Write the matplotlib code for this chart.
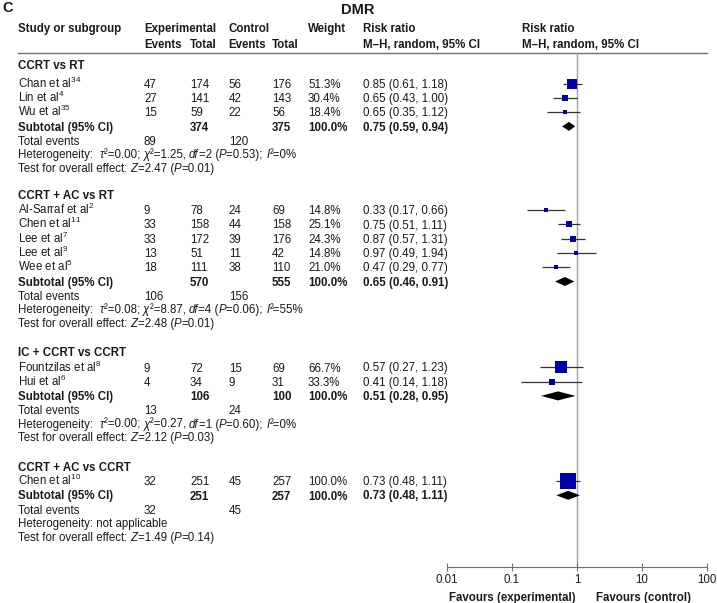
import matplotlib
matplotlib.use("Agg")
import matplotlib.pyplot as plt

plt.rcParams['font.family'] = 'Liberation Sans'
plt.rcParams['mathtext.fontset'] = 'custom'
plt.rcParams['mathtext.rm'] = 'Liberation Sans'
plt.rcParams['mathtext.it'] = 'Liberation Sans:italic'
plt.rcParams['mathtext.bf'] = 'Liberation Sans:bold'
plt.rcParams['mathtext.default'] = 'regular'

# ---- data ----
groups = ["CCRT vs RT", "CCRT + AC vs RT", "IC + CCRT vs CCRT", "CCRT + AC vs CCRT"]

study_group = [0, 0, 0, 1, 1, 1, 1, 1, 2, 2, 3]
study_names = ["Chan et al", "Lin et al", "Wu et al",
               "Al-Sarraf et al", "Chen et al", "Lee et al", "Lee et al", "Wee et al",
               "Fountzilas et al", "Hui et al",
               "Chen et al"]
study_refs = ["34", "4", "35", "2", "11", "7", "9", "5", "8", "6", "10"]
exp_events = [47, 27, 15, 9, 33, 33, 13, 18, 9, 4, 32]
exp_total = [174, 141, 59, 78, 158, 172, 51, 111, 72, 34, 251]
ctl_events = [56, 42, 22, 24, 44, 39, 11, 38, 15, 9, 45]
ctl_total = [176, 143, 56, 69, 158, 176, 42, 110, 69, 31, 257]
weights = [51.3, 30.4, 18.4, 14.8, 25.1, 24.3, 14.8, 21.0, 66.7, 33.3, 100.0]
rr = [0.85, 0.65, 0.65, 0.33, 0.75, 0.87, 0.97, 0.47, 0.57, 0.41, 0.73]
rr_lo = [0.61, 0.43, 0.35, 0.17, 0.51, 0.57, 0.49, 0.29, 0.27, 0.14, 0.48]
rr_hi = [1.18, 1.00, 1.12, 0.66, 1.11, 1.31, 1.94, 0.77, 1.23, 1.18, 1.11]

sub_exp_total = [374, 570, 106, 251]
sub_ctl_total = [375, 555, 100, 257]
sub_exp_events = [89, 106, 13, 32]
sub_ctl_events = [120, 156, 24, 45]
sub_rr = [0.75, 0.65, 0.51, 0.73]
sub_lo = [0.59, 0.46, 0.28, 0.48]
sub_hi = [0.94, 0.91, 0.95, 1.11]

het_tau2 = ["0.00", "0.08", "0.00", None]
het_chi2 = ["1.25", "8.87", "0.27", None]
het_df = [2, 4, 1, None]
het_p = ["0.53", "0.06", "0.60", None]
het_i2 = [0, 55, 0, None]
z_val = ["2.47", "2.48", "2.12", "1.49"]
z_p = ["0.01", "0.01", "0.03", "0.14"]

ticks = [0.01, 0.1, 1, 10, 100]
tick_labels = ["0.01", "0.1", "1", "10", "100"]

# ---- layout (pixels) ----
W, H = 717, 603
heading_y = [65, 195, 352, 466.5]
first_row_y = [83.5, 210, 367.3, 481]
row_h = 14.3
small_h = 13.4
col_x = [18, 144, 190, 228.7, 272, 308, 362.7]
plot_left, plot_right = 447, 707
line_y, axis_y = 53, 567
fs = 8.3
txt_col = '#1a1a1a'
blue = '#0000a8'

fig = plt.figure(figsize=(W / 100, H / 100), dpi=100)
renderer = fig.canvas.get_renderer()
tx = fig.add_axes([0, 0, 1, 1])
tx.set_xlim(0, W)
tx.set_ylim(H, 0)
tx.axis('off')


def put(x, y, s, bold=False, italic=False, **kw):
    # y is the visual centre of the row, text drawn on its baseline
    return tx.text(x, y + 4.2, s, fontsize=kw.pop('size', fs), color=txt_col,
                   fontweight='bold' if bold else 'normal',
                   fontstyle='italic' if italic else 'normal', va='baseline', **kw)


def put_runs(x, y, runs):
    # plain / italic pieces laid one after another (1 data unit = 1 px)
    for s, it in runs:
        t = put(x, y, s, italic=it)
        x += t.get_window_extent(renderer).width


tx.text(2, 8, "C", fontsize=10.5, fontweight='bold', color=txt_col, va='center')
tx.text(358, 9.5, "DMR", fontsize=10.5, fontweight='bold', color=txt_col, va='center', ha='center')

# headers
put(18, 28, "Study or subgroup", True)
put(144, 28, "Experimental", True)
put(228.7, 28, "Control", True)
put(308, 28, "Weight", True)
put(362.7, 28, "Risk ratio", True)
put(521.7, 28, "Risk ratio", True)
put(144, 43.5, "Events", True)
put(190, 43.5, "Total", True)
put(228.7, 43.5, "Events", True)
put(272, 43.5, "Total", True)
put(362.7, 43.5, "M–H, random, 95% CI", True)
put(521.7, 43.5, "M–H, random, 95% CI", True)
tx.plot([18, 707], [line_y, line_y], color='#707070', lw=1)

# forest plot axes: y data = pixel rows
ax = fig.add_axes([plot_left / W, (H - axis_y) / H,
                   (plot_right - plot_left) / W, (axis_y - line_y) / H])
ax.set_xscale('log')
ax.set_xlim(0.01, 100)
ax.set_ylim(axis_y, line_y)
ax.patch.set_alpha(0)
for s in ['top', 'left', 'right']:
    ax.spines[s].set_visible(False)
ax.spines['bottom'].set_color('#707070')
ax.set_yticks([])
ax.set_xticks(ticks)
ax.set_xticklabels(tick_labels)
ax.minorticks_off()
ax.tick_params(axis='x', direction='inout', length=6, width=0.8, color='#707070',
               labelsize=fs, labelcolor=txt_col, pad=2)
ax.axvline(1, color='#a0a0a0', lw=1, zorder=1)

for g in range(len(groups)):
    put(18, heading_y[g], groups[g], True)
    idx = [i for i in range(len(study_names)) if study_group[i] == g]
    y = first_row_y[g]
    for i in idx:
        put(col_x[0], y, study_names[i] + "$^{" + study_refs[i] + "}$")
        put(col_x[1], y, str(exp_events[i]))
        put(col_x[2], y, str(exp_total[i]))
        put(col_x[3], y, str(ctl_events[i]))
        put(col_x[4], y, str(ctl_total[i]))
        put(col_x[5], y, f"{weights[i]:.1f}%")
        put(col_x[6], y, f"{rr[i]:.2f} ({rr_lo[i]:.2f}, {rr_hi[i]:.2f})")
        ax.hlines(y, rr_lo[i], rr_hi[i], color='#333333', lw=0.9, zorder=2)
        side = (1.5 + 14.8 * weights[i] / 100) * 0.72
        ax.scatter([rr[i]], [y], marker='s', s=side ** 2, color=blue, lw=0, zorder=3)
        y += row_h
    # subtotal row with pooled diamond
    put(col_x[0], y, "Subtotal (95% CI)", True)
    put(col_x[2], y, str(sub_exp_total[g]), True)
    put(col_x[4], y, str(sub_ctl_total[g]), True)
    put(col_x[5], y, "100.0%", True)
    put(col_x[6], y, f"{sub_rr[g]:.2f} ({sub_lo[g]:.2f}, {sub_hi[g]:.2f})", True)
    ax.fill([sub_lo[g], sub_rr[g], sub_hi[g], sub_rr[g]], [y, y - 4.5, y, y + 4.5],
            color='black', lw=0, zorder=3)
    y += row_h
    put(col_x[0], y, "Total events")
    put(col_x[1], y, str(sub_exp_events[g]))
    put(col_x[3], y, str(sub_ctl_events[g]))
    y += small_h
    if het_tau2[g] is None:
        put(col_x[0], y, "Heterogeneity: not applicable")
    else:
        put_runs(col_x[0], y, [
            ("Heterogeneity:  ", False), ("τ", True), ("²=" + het_tau2[g] + "; ", False),
            ("χ", True), ("²=" + het_chi2[g] + ", ", False),
            ("df", True), ("=" + str(het_df[g]) + " (", False),
            ("P", True), ("=" + het_p[g] + "); ", False),
            ("I", True), ("²=" + str(het_i2[g]) + "%", False)])
    y += small_h
    put_runs(col_x[0], y, [
        ("Test for overall effect: ", False), ("Z", True), ("=" + z_val[g] + " (", False),
        ("P", True), ("=" + z_p[g] + ")", False)])

put(576, 596.5, "Favours (experimental)", True, ha='right')
put(596, 596.5, "Favours (control)", True)

fig.savefig("out.png", dpi=100)
